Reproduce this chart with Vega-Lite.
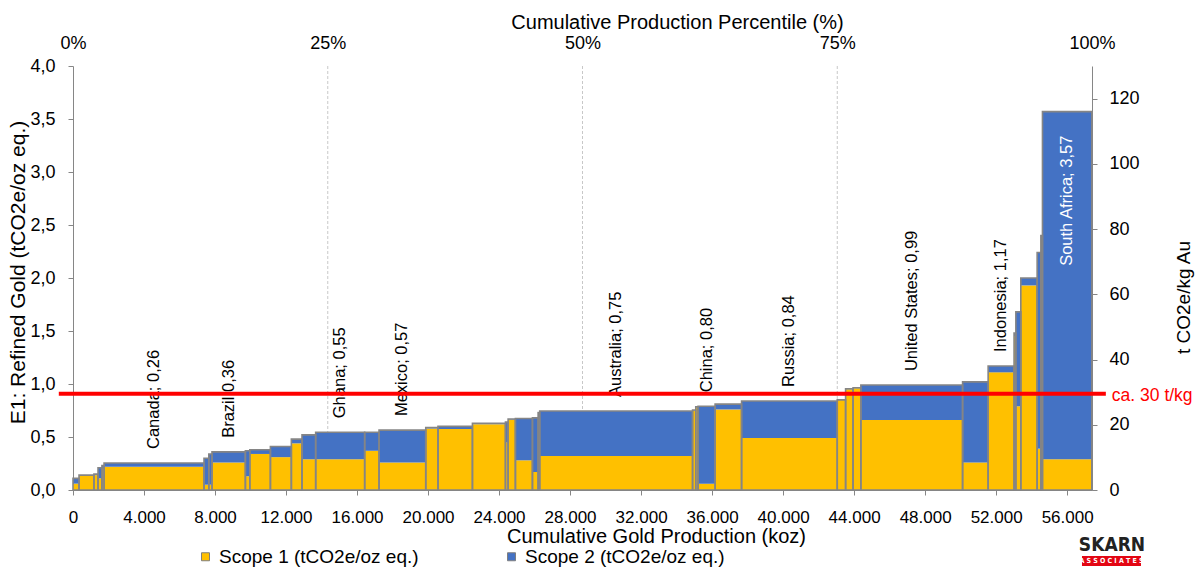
{
  "$schema": "https://vega.github.io/schema/vega-lite/v6.json",
  "width": 1019,
  "height": 424,
  "autosize": {"type": "none"},
  "padding": {"left": 73, "top": 66, "right": 110, "bottom": 78},
  "background": "white",
  "datasets": {
    "bars": [
      {"x0": 0, "x1": 340, "s1": 0.06, "tot": 0.11},
      {"x0": 340, "x1": 1180, "s1": 0.14, "tot": 0.14},
      {"x0": 1180, "x1": 1410, "s1": 0.14, "tot": 0.15},
      {"x0": 1410, "x1": 1630, "s1": 0.11, "tot": 0.21},
      {"x0": 1630, "x1": 1750, "s1": 0.2, "tot": 0.23},
      {"x0": 1750, "x1": 7380, "s1": 0.22, "tot": 0.255, "label": "Canada; 0,26"},
      {"x0": 7380, "x1": 7650, "s1": 0.05, "tot": 0.3},
      {"x0": 7650, "x1": 7830, "s1": 0.05, "tot": 0.34},
      {"x0": 7830, "x1": 9710, "s1": 0.26, "tot": 0.36, "label": "Brazil  0,36"},
      {"x0": 9710, "x1": 9960, "s1": 0.13, "tot": 0.37},
      {"x0": 9960, "x1": 11120, "s1": 0.34, "tot": 0.38},
      {"x0": 11120, "x1": 12300, "s1": 0.31, "tot": 0.41},
      {"x0": 12300, "x1": 12900, "s1": 0.44, "tot": 0.48},
      {"x0": 12900, "x1": 13670, "s1": 0.29, "tot": 0.52},
      {"x0": 13670, "x1": 16430, "s1": 0.29, "tot": 0.545, "label": "Ghana; 0,55"},
      {"x0": 16430, "x1": 17240, "s1": 0.37, "tot": 0.545},
      {"x0": 17240, "x1": 19870, "s1": 0.26, "tot": 0.565, "label": "Mexico; 0,57"},
      {"x0": 19870, "x1": 20560, "s1": 0.58, "tot": 0.59},
      {"x0": 20560, "x1": 22500, "s1": 0.575, "tot": 0.6},
      {"x0": 22500, "x1": 24360, "s1": 0.62, "tot": 0.63},
      {"x0": 24360, "x1": 24510, "s1": 0.45, "tot": 0.64},
      {"x0": 24510, "x1": 24920, "s1": 0.665, "tot": 0.67},
      {"x0": 24920, "x1": 25880, "s1": 0.28, "tot": 0.675},
      {"x0": 25880, "x1": 26200, "s1": 0.17, "tot": 0.68},
      {"x0": 26200, "x1": 26290, "s1": 0.73, "tot": 0.73},
      {"x0": 26290, "x1": 34900, "s1": 0.32, "tot": 0.745, "label": "Australia; 0,75"},
      {"x0": 34900, "x1": 35080, "s1": 0.75, "tot": 0.755},
      {"x0": 35080, "x1": 35210, "s1": 0.78, "tot": 0.785},
      {"x0": 35210, "x1": 36170, "s1": 0.06, "tot": 0.79, "label": "China; 0,80"},
      {"x0": 36170, "x1": 37660, "s1": 0.76, "tot": 0.81},
      {"x0": 37660, "x1": 43050, "s1": 0.49, "tot": 0.84, "label": "Russia; 0,84"},
      {"x0": 43050, "x1": 43520, "s1": 0.85, "tot": 0.85},
      {"x0": 43520, "x1": 43940, "s1": 0.95, "tot": 0.955},
      {"x0": 43940, "x1": 44380, "s1": 0.96, "tot": 0.965},
      {"x0": 44380, "x1": 50110, "s1": 0.66, "tot": 0.99, "label": "United States; 0,99"},
      {"x0": 50110, "x1": 51550, "s1": 0.26, "tot": 1.02},
      {"x0": 51550, "x1": 53010, "s1": 1.11, "tot": 1.17, "label": "Indonesia; 1,17"},
      {"x0": 53010, "x1": 53110, "s1": 1.45, "tot": 1.48},
      {"x0": 53110, "x1": 53390, "s1": 0.79, "tot": 1.68},
      {"x0": 53390, "x1": 54310, "s1": 1.93, "tot": 2.0},
      {"x0": 54310, "x1": 54520, "s1": 0.39, "tot": 2.24},
      {"x0": 54520, "x1": 54610, "s1": 2.35, "tot": 2.4},
      {"x0": 54610, "x1": 57390, "s1": 0.29, "tot": 3.57, "inlabel": "South Africa; 3,57"}
    ],
    "pct": [{"p": 0.25}, {"p": 0.5}, {"p": 0.75}],
    "ref": [{"t": 29.5, "lab": "ca. 30 t/kg"}]
  },
  "layer": [
    {
      "data": {"name": "pct"},
      "mark": {"type": "rule", "color": "#c8c8c8", "strokeDash": [3, 2], "strokeWidth": 1},
      "encoding": {
        "x": {
          "field": "p", "type": "quantitative",
          "scale": {"domain": [0, 1], "nice": false, "zero": false},
          "axis": {
            "orient": "top", "values": [0, 0.25, 0.5, 0.75, 1], "format": ".0%",
            "ticks": false, "tickSize": 0, "domain": false,
            "labelFontSize": 18, "labelBaseline": "middle", "labelPadding": 23,
            "title": "Cumulative Production Percentile (%)", "titleFontSize": 20,
            "titleX": 604, "titleY": -44, "titleBaseline": "middle", "titleAlign": "center"
          }
        }
      }
    },
    {
      "data": {"name": "bars"},
      "layer": [
        {
          "mark": {"type": "bar"},
          "encoding": {
            "x": {
              "field": "x0", "type": "quantitative",
              "scale": {"domain": [0, 57400], "nice": false, "zero": false},
              "title": "Cumulative Gold Production (koz)",
              "axis": {
                "values": [0, 4000, 8000, 12000, 16000, 20000, 24000, 28000, 32000, 36000, 40000, 44000, 48000, 52000, 56000],
                "format": ",.0f", "labelFontSize": 17, "labelPadding": 14, "tickSize": 5,
                "titleFontSize": 20, "titleX": 583, "titleY": 46, "titleBaseline": "middle", "titleAlign": "center"
              }
            },
            "x2": {"field": "x1"},
            "y": {
              "field": "s1", "type": "quantitative",
              "scale": {"domain": [0, 4], "nice": false},
              "title": "E1: Refined Gold (tCO2e/oz eq.)",
              "axis": {
                "values": [0, 0.5, 1, 1.5, 2, 2.5, 3, 3.5, 4], "format": ".1f",
                "labelFontSize": 18, "labelPadding": 13, "tickSize": 5,
                "titleFontSize": 21, "titleAngle": 270, "titleX": -55, "titleY": 206,
                "titleAlign": "center", "titleBaseline": "middle"
              }
            },
            "y2": {"datum": 0},
            "color": {
              "datum": "Scope 1 (tCO2e/oz eq.)",
              "scale": {"domain": ["Scope 1 (tCO2e/oz eq.)", "Scope 2 (tCO2e/oz eq.)"], "range": ["#FFC000", "#4472C4"]},
              "legend": {
                "orient": "none", "legendX": 123, "legendY": 481, "direction": "horizontal",
                "title": null, "labelFontSize": 19, "labelLimit": 400, "symbolType": "square", "symbolSize": 64,
                "symbolStrokeColor": "#7f7f7f", "symbolStrokeWidth": 1, "labelOffset": 4,
                "columnPadding": 83, "padding": 0
              }
            }
          }
        },
        {
          "mark": {"type": "bar"},
          "encoding": {
            "x": {"field": "x0", "type": "quantitative", "title": "Cumulative Gold Production (koz)"},
            "x2": {"field": "x1"},
            "y": {"field": "s1", "type": "quantitative", "title": "E1: Refined Gold (tCO2e/oz eq.)"},
            "y2": {"field": "tot"},
            "color": {"datum": "Scope 2 (tCO2e/oz eq.)"}
          }
        },
        {
          "mark": {"type": "bar", "fill": "transparent", "stroke": "#858585", "strokeWidth": 1.6},
          "encoding": {
            "x": {"field": "x0", "type": "quantitative", "title": "Cumulative Gold Production (koz)"},
            "x2": {"field": "x1"},
            "y": {"field": "tot", "type": "quantitative", "title": "E1: Refined Gold (tCO2e/oz eq.)"},
            "y2": {"datum": 0}
          }
        },
        {
          "transform": [
            {"filter": "isValid(datum.label)"},
            {"calculate": "(datum.x0 + datum.x1) / 2", "as": "mid"}
          ],
          "mark": {"type": "text", "angle": 270, "align": "left", "baseline": "middle", "dx": 14, "fontSize": 16.5, "color": "#000000"},
          "encoding": {
            "x": {"field": "mid", "type": "quantitative", "title": "Cumulative Gold Production (koz)"},
            "y": {"field": "tot", "type": "quantitative", "title": "E1: Refined Gold (tCO2e/oz eq.)"},
            "text": {"field": "label"}
          }
        },
        {
          "transform": [
            {"filter": "isValid(datum.inlabel)"},
            {"calculate": "(datum.x0 + datum.x1) / 2", "as": "mid"}
          ],
          "mark": {"type": "text", "angle": 270, "align": "right", "baseline": "middle", "dx": -24, "fontSize": 16.5, "color": "#ffffff"},
          "encoding": {
            "x": {"field": "mid", "type": "quantitative", "title": "Cumulative Gold Production (koz)"},
            "y": {"field": "tot", "type": "quantitative", "title": "E1: Refined Gold (tCO2e/oz eq.)"},
            "text": {"field": "inlabel"}
          }
        },
        {
          "data": {"values": [{"logo": "SKARN"}]},
          "mark": {"type": "text", "font": "DejaVu Sans Condensed", "fontWeight": "bold", "fontSize": 19, "color": "#222222", "align": "center", "baseline": "middle"},
          "encoding": {
            "x": {"datum": 58526},
            "y": {"datum": -0.519},
            "text": {"field": "logo"}
          }
        },
        {
          "data": {"values": [{"logo": "ASSOCIATES"}]},
          "mark": {"type": "bar", "color": "#E30613"},
          "encoding": {
            "x": {"datum": 56836},
            "x2": {"datum": 60159},
            "y": {"datum": -0.623},
            "y2": {"datum": -0.717}
          }
        },
        {
          "data": {"values": [{"logo": "A S S O C I A T E S"}]},
          "mark": {"type": "text", "font": "DejaVu Sans Condensed", "fontWeight": "bold", "fontSize": 7, "color": "#ffffff", "align": "center", "baseline": "middle"},
          "encoding": {
            "x": {"datum": 58497},
            "y": {"datum": -0.67},
            "text": {"field": "logo"}
          }
        }
      ]
    },
    {
      "data": {"name": "ref"},
      "layer": [
        {
          "mark": {"type": "rule", "color": "#FF0000", "strokeWidth": 4},
          "encoding": {
            "x": {"datum": -800, "scale": {"domain": [0, 57400], "nice": false, "zero": false}, "axis": null},
            "x2": {"datum": 58180},
            "y": {
              "field": "t", "type": "quantitative",
              "scale": {"domain": [0, 130], "nice": false},
              "title": "t CO2e/kg Au",
              "axis": {
                "orient": "right",
                "values": [0, 5, 10, 15, 20, 25, 30, 35, 40, 45, 50, 55, 60, 65, 70, 75, 80, 85, 90, 95, 100, 105, 110, 115, 120, 125, 130],
                "labelExpr": "datum.value % 20 === 0 ? datum.label : ''",
                "labelFontSize": 18, "labelPadding": 12, "tickSize": 5,
                "titleFontSize": 19, "titleAngle": 270, "titleX": 91, "titleY": 231,
                "titleAlign": "center", "titleBaseline": "middle"
              }
            }
          }
        },
        {
          "mark": {"type": "text", "color": "#FF0000", "fontSize": 17.5, "align": "left", "baseline": "middle", "dx": 6, "dy": 2},
          "encoding": {
            "x": {"datum": 58180},
            "y": {"field": "t", "type": "quantitative", "title": "t CO2e/kg Au"},
            "text": {"field": "lab"}
          }
        }
      ]
    }
  ],
  "resolve": {"scale": {"x": "independent", "y": "independent"}},
  "config": {
    "font": "Liberation Sans",
    "view": {"stroke": null},
    "locale": {"number": {"decimal": ",", "thousands": ".", "grouping": [3], "currency": ["", "€"]}},
    "axis": {
      "labelFont": "Liberation Sans", "titleFont": "Liberation Sans",
      "labelColor": "#000000", "titleColor": "#000000", "titleFontWeight": "normal",
      "domainColor": "#868686", "tickColor": "#868686", "grid": false,
      "labelFlush": false, "labelOverlap": false
    },
    "legend": {"labelFont": "Liberation Sans", "labelColor": "#000000"}
  }
}
